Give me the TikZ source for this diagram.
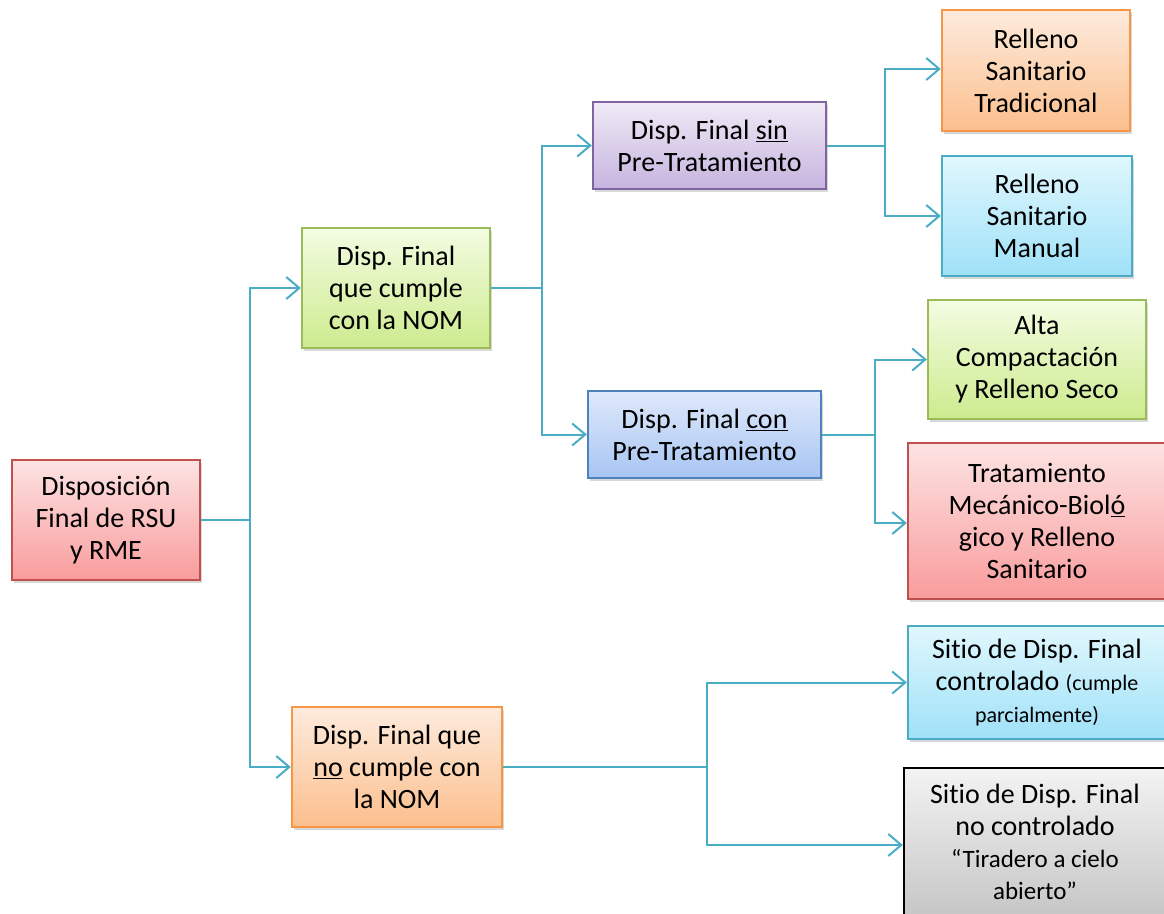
\documentclass[tikz,border=0pt]{standalone}
\usepackage{fontspec}
\setmainfont{Carlito}[Ligatures=NoCommon]
\usetikzlibrary{arrows.meta,shadows}
\definecolor{redT}{HTML}{FDE3E3}\definecolor{redB}{HTML}{F99C9C}\definecolor{redD}{HTML}{C0504D}
\definecolor{grnT}{HTML}{F3FCE2}\definecolor{grnB}{HTML}{CDEB8E}\definecolor{grnD}{HTML}{9BBB59}
\definecolor{orgT}{HTML}{FEEBDD}\definecolor{orgB}{HTML}{FBBF8D}\definecolor{orgD}{HTML}{F79646}
\definecolor{purT}{HTML}{F0EAF6}\definecolor{purB}{HTML}{C6B4DF}\definecolor{purD}{HTML}{8064A2}
\definecolor{bluT}{HTML}{DFE9FA}\definecolor{bluB}{HTML}{A7C5F3}\definecolor{bluD}{HTML}{4F81BD}
\definecolor{cyaT}{HTML}{E0F7FD}\definecolor{cyaB}{HTML}{9FE1F8}\definecolor{cyaD}{HTML}{4BACC6}
\definecolor{gryT}{HTML}{F3F3F3}\definecolor{gryB}{HTML}{C6C6C6}
\definecolor{conncol}{HTML}{4BACC6}
\tikzset{
  box/.style={rectangle, inner sep=0pt, align=center, line width=2.4pt,
    font=\fontsize{28}{32}\selectfont,
    drop shadow={opacity=0.3, shadow xshift=2pt, shadow yshift=-3pt}},
  redbox/.style={box, draw=redD, top color=redT, bottom color=redB},
  grnbox/.style={box, draw=grnD, top color=grnT, bottom color=grnB},
  orgbox/.style={box, draw=orgD, top color=orgT, bottom color=orgB},
  purbox/.style={box, draw=purD, top color=purT, bottom color=purB},
  blubox/.style={box, draw=bluD, top color=bluT, bottom color=bluB},
  cyabox/.style={box, draw=cyaD, top color=cyaT, bottom color=cyaB},
  grybox/.style={box, draw=black, top color=gryT, bottom color=gryB},
  conn/.style={draw=conncol, line width=2pt},
  arr/.style={conn, -{Straight Barb[length=13pt,width=22pt,line width=2pt]}},
}
\newcommand{\smalltxt}[1]{{\fontsize{22}{32}\selectfont #1}}
\newcommand{\midtxt}[1]{{\fontsize{25}{32}\selectfont #1}}
\begin{document}
\begin{tikzpicture}[x=1pt,y=-1pt]
\useasboundingbox (0,0) rectangle (1164,913);
\clip (0,0) rectangle (1164,913);
\fill[white] (0,0) rectangle (1164,913);

\node[redbox, minimum width=188pt, minimum height=120pt] (b1) at (106,520) {Disposición\\Final de RSU\\y RME};
\node[grnbox, minimum width=188pt, minimum height=120pt] (b2) at (396,288) {Disp. Final\\que cumple\\con la NOM};
\node[orgbox, minimum width=210pt, minimum height=120pt] (b3) at (397,767) {Disp. Final que\\\underline{no} cumple con\\la NOM};
\node[purbox, minimum width=233pt, minimum height=87pt] (b4) at (709.5,145.5) {Disp. Final \underline{sin}\\Pre-Tratamiento};
\node[blubox, minimum width=233pt, minimum height=87pt] (b5) at (704.5,434.5) {Disp. Final \underline{con}\\Pre-Tratamiento};
\node[orgbox, minimum width=188pt, minimum height=121pt] (b6) at (1036,70.5) {Relleno\\Sanitario\\Tradicional};
\node[cyabox, minimum width=190pt, minimum height=120pt] (b7) at (1037,216) {Relleno\\Sanitario\\Manual};
\node[grnbox, minimum width=218pt, minimum height=119pt] (b8) at (1037,359.5) {Alta\\Compactación\\y Relleno Seco};
\node[redbox, minimum width=258pt, minimum height=156pt] (b9) at (1037,521) {Tratamiento\\Mecánico-Biol\underline{ó}\\gico y Relleno\\Sanitario};
\node[cyabox, minimum width=258pt, minimum height=113pt] (b10) at (1037,682.5) {Sitio de Disp. Final\\controlado \smalltxt{(cumple}\\\smalltxt{parcialmente)}};
\node[grybox, minimum width=262pt, minimum height=148pt] (b11) at (1035,842) {Sitio de Disp. Final\\no controlado\\\midtxt{“Tiradero a cielo}\\\midtxt{abierto”}};

% connectors
\draw[conn] (b1.east) -- ++(49,0) coordinate (j1);
\draw[arr] (j1) |- (b2.west);
\draw[arr] (j1) |- (b3.west);

\draw[conn] (b2.east) -- ++(51,0) coordinate (j2);
\draw[arr] (j2) |- (b4.west);
\draw[arr] (j2) |- (b5.west);

\draw[conn] (b4.east) -- ++(58,0) coordinate (j3);
\draw[arr] (j3) |- ([yshift=1.5pt]b6.west);
\draw[arr] (j3) |- (b7.west);

\draw[conn] (b5.east) -- ++(53,0) coordinate (j4);
\draw[arr] (j4) |- (b8.west);
\draw[arr] (j4) |- ([yshift=-2pt]b9.west);

\draw[conn] (b3.east) -- ++(204,0) coordinate (j5);
\draw[arr] (j5) |- (b10.west);
\draw[arr] (j5) |- ([yshift=-3pt]b11.west);
\end{tikzpicture}
\end{document}
